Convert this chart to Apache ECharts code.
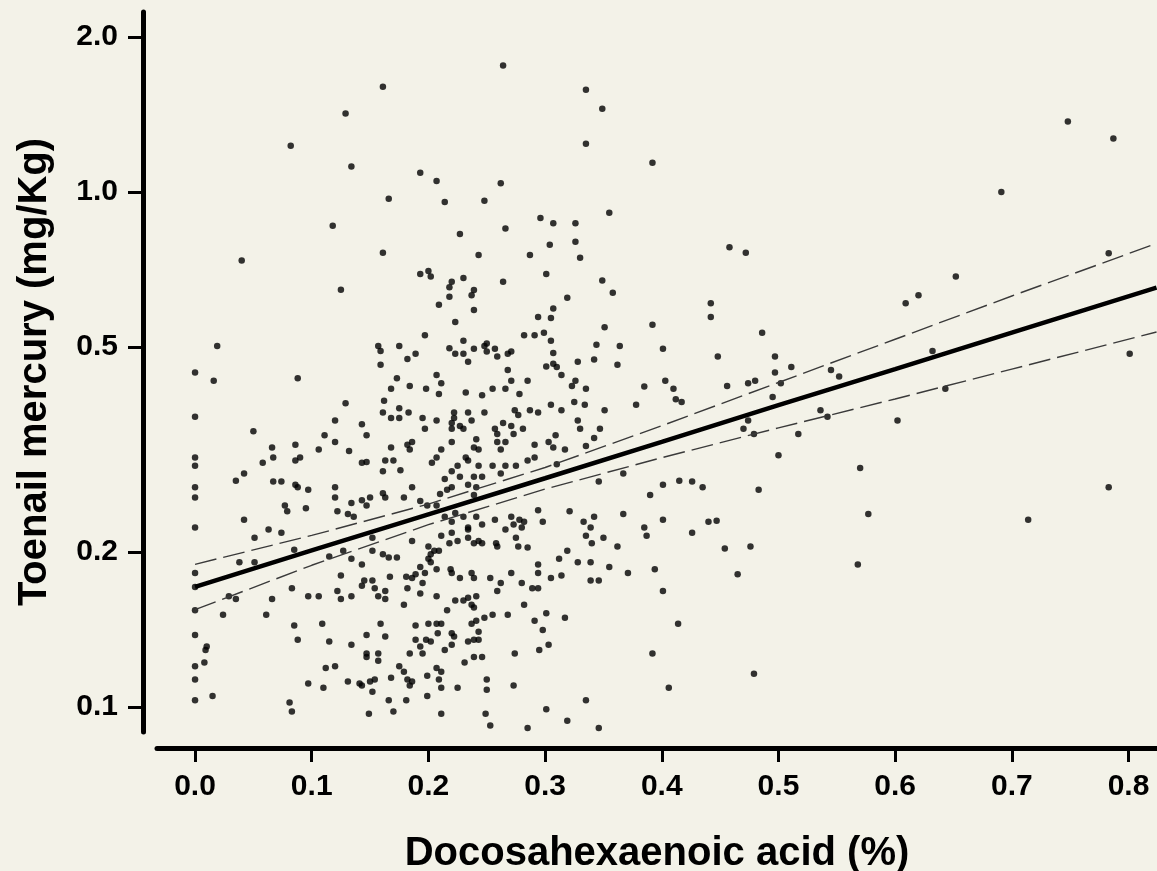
<!DOCTYPE html>
<html>
<head>
<meta charset="utf-8">
<script src="https://cdn.jsdelivr.net/npm/echarts@6/dist/echarts.min.js"></script>
<style>
  html, body { margin: 0; padding: 0; background: #f3f2e8; }
  #chart { width: 1157px; height: 871px; }
</style>
</head>
<body>
<div id="chart"></div>
<script>
// axis ticks
const xTicks = [0, 0.1, 0.2, 0.3, 0.4, 0.5, 0.6, 0.7, 0.8];
const yTicks = [0.1, 0.2, 0.5, 1.0, 2.0];

// fitted line and confidence band
const fitX = [0, 0.1, 0.2, 0.3, 0.4, 0.5, 0.6, 0.7, 0.824];
const fitY = [0.171, 0.2014, 0.2366, 0.278, 0.327, 0.3855, 0.4529, 0.533, 0.652];
const ciUpper = [0.1892, 0.2153, 0.2477, 0.2917, 0.3516, 0.4266, 0.5176, 0.6281, 0.7943];
const ciLower = [0.1545, 0.1884, 0.2259, 0.2649, 0.3048, 0.3483, 0.3963, 0.4529, 0.5346];

// [DHA %, toenail mercury mg/kg]
const points = [
  [0.161,1.60],[0.129,1.42],[0.082,1.23],[0.134,1.12],[0.166,0.97],[0.118,0.86],[0.040,0.736],[0.161,0.762],[0.125,0.646],[0.019,0.502],[0.157,0.502],[0.159,0.491],[0.175,0.502],
  [0,0.446],[0,0.366],[0,0.305],[0,0.294],[0,0.267],[0,0.255],[0,0.223],[0,0.182],[0,0.171],[0,0.154],[0,0.138],[0,0.120],[0,0.113],[0,0.103],
  [0.016,0.430],[0.088,0.435],[0.159,0.462],[0.173,0.435],[0.168,0.415],[0.129,0.389],[0.162,0.393],[0.175,0.380],[0.161,0.373],[0.168,0.364],[0.175,0.364],[0.050,0.343],[0.120,0.360],[0.143,0.354],[0.147,0.337],[0.111,0.337],[0.120,0.327],[0.106,0.316],[0.132,0.314],[0.066,0.319],[0.086,0.323],[0.067,0.305],[0.058,0.298],[0.086,0.301],[0.090,0.305],[0.143,0.298],[0.147,0.299],[0.163,0.301],[0.170,0.301],[0.168,0.319],[0.161,0.287],[0.035,0.275],[0.042,0.284],[0.067,0.274],[0.074,0.274],[0.086,0.270],[0.088,0.267],[0.097,0.264],[0.120,0.267],[0.120,0.255],[0.143,0.252],[0.150,0.255],[0.147,0.246],[0.161,0.260],[0.163,0.255],[0.077,0.246],[0.079,0.240],[0.095,0.243],[0.134,0.249],[0.122,0.240],[0.131,0.237],[0.136,0.234],[0.042,0.231],[0.063,0.221],[0.074,0.218],[0.051,0.213],[0.038,0.191],[0.051,0.191],[0.085,0.202],[0.125,0.180],[0.134,0.194],[0.143,0.189],[0.152,0.201],[0.152,0.213],[0.161,0.198],[0.166,0.195],[0.173,0.195],[0.127,0.201],[0.115,0.196],[0.029,0.164],[0.035,0.162],[0.066,0.162],[0.024,0.151],[0.061,0.151],[0.083,0.170],[0.097,0.164],[0.106,0.164],[0.122,0.168],[0.125,0.162],[0.134,0.164],[0.143,0.172],[0.145,0.176],[0.152,0.176],[0.154,0.170],[0.157,0.164],[0.163,0.168],[0.163,0.162],[0.167,0.179],[0.009,0.129],[0.010,0.131],[0.008,0.122],[0.015,0.105],[0.085,0.144],[0.088,0.135],[0.109,0.145],[0.115,0.134],[0.134,0.132],[0.147,0.138],[0.159,0.145],[0.163,0.137],[0.147,0.127],[0.147,0.125],[0.157,0.127],[0.157,0.123],[0.120,0.120],[0.112,0.119],[0.097,0.111],[0.110,0.109],[0.131,0.112],[0.141,0.111],[0.143,0.110],[0.150,0.112],[0.154,0.113],[0.152,0.107],[0.168,0.114],[0.175,0.120],[0.081,0.102],[0.083,0.098],[0.149,0.097],[0.166,0.103],[0.170,0.098],
  [0.264,1.76],[0.335,1.58],[0.349,1.45],[0.335,1.24],[0.392,1.14],[0.193,1.09],[0.207,1.05],[0.262,1.04],[0.214,0.956],[0.248,0.962],[0.296,0.890],[0.307,0.869],[0.326,0.869],[0.355,0.911],[0.227,0.829],[0.266,0.849],[0.304,0.790],[0.326,0.800],[0.330,0.745],[0.243,0.754],[0.287,0.754],[0.458,0.781],[0.472,0.762],[0.193,0.693],[0.200,0.702],[0.202,0.685],[0.230,0.681],[0.220,0.669],[0.218,0.653],[0.264,0.669],[0.301,0.693],[0.349,0.673],[0.358,0.637],[0.239,0.645],[0.237,0.630],[0.218,0.626],[0.209,0.604],[0.239,0.590],[0.319,0.623],[0.307,0.594],[0.442,0.608],[0.442,0.572],[0.223,0.559],[0.294,0.572],[0.305,0.569],[0.392,0.552],[0.351,0.546],[0.197,0.527],[0.282,0.527],[0.291,0.527],[0.299,0.533],[0.305,0.514],[0.230,0.514],[0.189,0.485],[0.182,0.474],[0.218,0.497],[0.223,0.485],[0.230,0.485],[0.239,0.496],[0.248,0.502],[0.250,0.508],[0.250,0.490],[0.257,0.496],[0.259,0.479],[0.268,0.485],[0.271,0.490],[0.307,0.487],[0.344,0.505],[0.364,0.502],[0.401,0.496],[0.342,0.473],[0.448,0.479],
  [0.234,0.468],[0.328,0.468],[0.362,0.462],[0.301,0.458],[0.307,0.464],[0.310,0.457],[0.268,0.451],[0.314,0.441],[0.207,0.441],[0.211,0.425],[0.184,0.420],[0.198,0.415],[0.209,0.405],[0.232,0.408],[0.246,0.403],[0.255,0.415],[0.266,0.415],[0.278,0.405],[0.285,0.430],[0.271,0.430],[0.326,0.430],[0.323,0.420],[0.335,0.415],[0.385,0.419],[0.403,0.430],[0.410,0.415],[0.412,0.396],[0.417,0.391],[0.456,0.420],[0.474,0.425],[0.378,0.386],[0.351,0.377],[0.325,0.391],[0.334,0.386],[0.305,0.386],[0.314,0.377],[0.274,0.377],[0.277,0.369],[0.287,0.377],[0.294,0.373],[0.248,0.373],[0.234,0.373],[0.237,0.360],[0.222,0.373],[0.222,0.364],[0.220,0.356],[0.207,0.360],[0.195,0.364],[0.183,0.373],[0.197,0.347],[0.220,0.347],[0.227,0.351],[0.230,0.347],[0.241,0.331],[0.257,0.347],[0.264,0.356],[0.259,0.339],[0.271,0.351],[0.273,0.339],[0.281,0.347],[0.328,0.360],[0.330,0.347],[0.347,0.347],[0.309,0.337],[0.303,0.327],[0.307,0.319],[0.317,0.316],[0.335,0.321],[0.342,0.333],[0.291,0.323],[0.259,0.327],[0.266,0.327],[0.262,0.316],[0.186,0.327],[0.182,0.323],[0.184,0.316],[0.211,0.316],[0.220,0.327],[0.239,0.319],[0.243,0.316],[0.203,0.298],[0.207,0.305],[0.232,0.305],[0.234,0.301],[0.220,0.287],[0.227,0.280],[0.225,0.294],[0.243,0.294],[0.246,0.280],[0.239,0.280],[0.255,0.294],[0.262,0.284],[0.266,0.294],[0.275,0.294],[0.285,0.301],[0.291,0.305],[0.310,0.296],[0.176,0.288],[0.214,0.277],[0.216,0.264],[0.220,0.267],[0.210,0.259],[0.234,0.270],[0.241,0.267],[0.239,0.258],[0.346,0.274],[0.367,0.284],[0.401,0.270],[0.415,0.275],[0.426,0.274],[0.435,0.267],[0.390,0.258],[0.179,0.255],[0.186,0.267],[0.193,0.251],[0.199,0.246],[0.207,0.246],[0.214,0.234],[0.220,0.229],[0.223,0.238],[0.230,0.234],[0.234,0.223],[0.241,0.234],[0.246,0.226],[0.257,0.231],[0.271,0.234],[0.273,0.226],[0.278,0.231],[0.282,0.229],[0.280,0.223],[0.294,0.241],[0.298,0.229],[0.321,0.240],[0.333,0.229],[0.342,0.234],[0.335,0.215],[0.339,0.223],[0.340,0.208],[0.350,0.213],[0.367,0.237],[0.385,0.223],[0.387,0.215],[0.401,0.231],[0.426,0.218],[0.440,0.229],[0.447,0.230],[0.186,0.210],[0.200,0.205],[0.205,0.201],[0.209,0.201],[0.202,0.198],[0.211,0.215],[0.220,0.218],[0.218,0.208],[0.225,0.210],[0.234,0.221],[0.234,0.213],[0.239,0.208],[0.243,0.210],[0.246,0.208],[0.258,0.208],[0.259,0.205],[0.266,0.221],[0.275,0.213],[0.277,0.205],[0.285,0.204],[0.362,0.205],[0.454,0.203],[0.319,0.201],[0.312,0.194],[0.328,0.191],[0.339,0.191],[0.355,0.187],[0.371,0.182],[0.394,0.185],[0.465,0.181],[0.200,0.194],[0.202,0.191],[0.181,0.179],[0.186,0.178],[0.189,0.181],[0.193,0.187],[0.197,0.182],[0.207,0.185],[0.219,0.185],[0.220,0.182],[0.227,0.178],[0.237,0.182],[0.239,0.178],[0.253,0.178],[0.262,0.174],[0.259,0.168],[0.271,0.182],[0.280,0.174],[0.294,0.189],[0.294,0.182],[0.305,0.178],[0.314,0.180],[0.289,0.170],[0.294,0.170],[0.339,0.176],[0.346,0.176],[0.401,0.168],[0.182,0.170],[0.195,0.174],[0.193,0.166],[0.207,0.164],[0.179,0.158],[0.223,0.161],[0.230,0.161],[0.234,0.163],[0.241,0.164],[0.237,0.158],[0.239,0.156],[0.216,0.154],[0.282,0.158],[0.189,0.144],[0.200,0.145],[0.207,0.145],[0.211,0.145],[0.208,0.139],[0.220,0.139],[0.222,0.137],[0.237,0.145],[0.241,0.147],[0.248,0.149],[0.255,0.151],[0.243,0.140],[0.268,0.151],[0.291,0.147],[0.301,0.152],[0.317,0.149],[0.298,0.141],[0.189,0.135],[0.198,0.135],[0.202,0.134],[0.193,0.131],[0.195,0.127],[0.184,0.127],[0.214,0.129],[0.220,0.132],[0.234,0.134],[0.239,0.135],[0.243,0.135],[0.231,0.122],[0.239,0.125],[0.246,0.125],[0.207,0.119],[0.211,0.117],[0.274,0.127],[0.295,0.129],[0.303,0.132],[0.414,0.145],[0.392,0.127],[0.179,0.117],[0.182,0.113],[0.184,0.110],[0.186,0.112],[0.199,0.115],[0.199,0.105],[0.209,0.113],[0.211,0.109],[0.225,0.109],[0.181,0.103],[0.250,0.113],[0.250,0.108],[0.273,0.110],[0.406,0.109],[0.335,0.103],[0.211,0.097],[0.249,0.097],[0.253,0.092],[0.301,0.099],[0.319,0.094],[0.285,0.091],[0.346,0.091],
  [0.748,1.37],[0.787,1.27],[0.691,1.00],[0.783,0.760],[0.652,0.685],[0.609,0.608],[0.620,0.630],[0.486,0.533],[0.497,0.479],[0.511,0.457],[0.497,0.446],[0.545,0.451],[0.552,0.438],[0.480,0.430],[0.502,0.425],[0.495,0.400],[0.632,0.491],[0.801,0.485],[0.474,0.360],[0.470,0.347],[0.479,0.339],[0.536,0.377],[0.542,0.366],[0.517,0.339],[0.643,0.415],[0.602,0.360],[0.500,0.308],[0.570,0.291],[0.483,0.264],[0.783,0.267],[0.577,0.237],[0.714,0.231],[0.476,0.205],[0.568,0.189],[0.479,0.116]
];

const FONT = '"Liberation Sans", Arial, sans-serif';
const chart = echarts.init(document.getElementById('chart'));

const axisText = { color: '#000', fontSize: 30, fontWeight: 'bold', fontFamily: FONT };

chart.setOption({
  backgroundColor: '#f3f2e8',
  animation: false,
  grid: { left: 157, right: 0, top: 12, bottom: 139, outerBoundsMode: 'none' },
  xAxis: {
    type: 'value',
    min: -0.0326,
    max: 0.8244,
    offset: 16,
    splitLine: { show: false },
    axisLine: { show: true, onZero: false, lineStyle: { color: '#000', width: 5 } },
    axisTick: { show: true, customValues: xTicks, length: 14, lineStyle: { color: '#000', width: 3 } },
    axisLabel: { ...axisText, customValues: xTicks, margin: 24, formatter: v => v.toFixed(1) },
    name: 'Docosahexaenoic acid (%)',
    nameLocation: 'middle',
    nameGap: 86,
    nameTextStyle: { color: '#000', fontSize: 40, fontWeight: 'bold', fontFamily: FONT }
  },
  yAxis: {
    type: 'log',
    logBase: 10,
    min: 0.0894,
    max: 2.236,
    offset: 14,
    splitLine: { show: false },
    axisLine: { show: true, onZero: false, lineStyle: { color: '#000', width: 5 } },
    axisTick: { show: true, customValues: yTicks, length: 15, lineStyle: { color: '#000', width: 3 } },
    axisLabel: { ...axisText, customValues: yTicks, margin: 25, formatter: v => v.toFixed(1) },
    name: 'Toenail mercury (mg/Kg)',
    nameLocation: 'middle',
    nameRotate: 90,
    nameGap: 88,
    nameTextStyle: { color: '#000', fontSize: 40, fontWeight: 'bold', fontFamily: FONT }
  },
  series: [
    {
      type: 'scatter',
      data: points,
      symbol: 'circle',
      symbolSize: 6.5,
      itemStyle: { color: '#000' },
      z: 2
    },
    {
      type: 'line',
      data: fitX.map((x, i) => [x, ciUpper[i]]),
      showSymbol: false,
      lineStyle: { color: '#3a3a3a', width: 1.4, type: [22, 7] },
      z: 3
    },
    {
      type: 'line',
      data: fitX.map((x, i) => [x, ciLower[i]]),
      showSymbol: false,
      lineStyle: { color: '#3a3a3a', width: 1.4, type: [22, 7] },
      z: 3
    },
    {
      type: 'line',
      data: fitX.map((x, i) => [x, fitY[i]]),
      showSymbol: false,
      lineStyle: { color: '#000', width: 4.5 },
      z: 4
    }
  ]
});
</script>
</body>
</html>
